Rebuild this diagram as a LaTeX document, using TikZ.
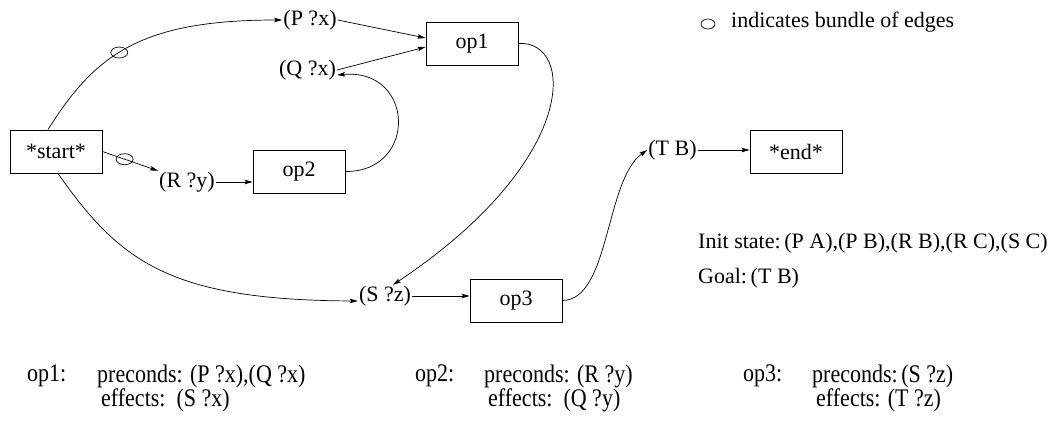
\documentclass[tikz,border=0pt]{standalone}
\usepackage{fontspec}
\setmainfont{Liberation Serif}
\usetikzlibrary{arrows.meta,shapes.geometric}
\newcommand\vstr[1]{\scalebox{1}[1.15]{#1}}
\begin{document}
\begin{tikzpicture}[x=1pt,y=-1pt,
  every node/.style={font=\fontsize{22}{26}\selectfont},
  box/.style={draw,line width=0.9pt,minimum width=92pt,minimum height=43pt,inner sep=0pt},
  lit/.style={inner sep=1pt},
  bot/.style={inner sep=1pt,anchor=west},
  arr/.style={-{Stealth[length=8pt,width=4.5pt,inset=1.5pt]}},
  edge/.style={line width=0.7pt},
  bundle/.style={draw,ellipse,line width=0.7pt,minimum width=17pt,minimum height=11pt,inner sep=0pt}]
\useasboundingbox (0,0) rectangle (1060,421);
% boxes
\node[box] (start) at (56,151.5) {*start*};
\node[box] (op1) at (472,43.5) {op1};
\node[box] (op2) at (299,171.5) {op2};
\node[box] (op3) at (516,300.5) {op3};
\node[box] (end) at (796,151.5) {*end*};
% literals
\node[lit] (px) at (310,20) {(P ?x)};
\node[lit] (qx) at (307.5,70) {(Q ?x)};
\node[lit] (ry) at (187,182) {(R ?y)};
\node[lit] (sz) at (385,296) {(S ?z)};
\node[lit] (tb) at (672.5,150) {(T B)};
% edges
\draw[edge,arr] ([xshift=-8pt]start.north) .. controls (95,55) and (140,20) .. (px.west) node[bundle,pos=0.45]{};
\draw[edge,arr] (start.east) -- (ry.north west) node[bundle,pos=0.4]{};
\draw[edge,arr] ([xshift=2pt]start.south) .. controls (120,262) and (170,300) .. ([yshift=-5pt]sz.west);
\draw[edge,arr] (ry.east) -- (ry.east -| op2.west);
\draw[edge,arr] (sz.east) -- (sz.east -| op3.west);
\draw[edge,arr] (tb.east) -- (tb.east -| end.west);
\draw[edge,arr] (px.east) -- ([yshift=5.5pt]op1.west);
\draw[edge,arr] (qx.east) -- ([yshift=-3.5pt]op1.west);
\draw[edge,arr] (op2.east) .. controls (418,172) and (415,68) .. ([yshift=-5pt]qx.east);
\draw[edge,arr] (op1.east) .. controls (575,40) and (580,160) .. ([xshift=8pt]sz.north);
\draw[edge,arr] (op3.east) .. controls (610,300) and (605,180) .. (tb.west);
% legend
\node[bundle,minimum width=14pt,minimum height=10pt] (leg) at (708,24) {};
\node[lit,anchor=west] (legt) at (730,22) {indicates bundle of edges};
% state
\node[lit,anchor=west] (init) at (697,243) {Init state:\,(P A),(P B),(R B),(R C),(S C)};
\node[lit,anchor=west] (goal) at (697,278) {Goal:\,(T B)};
% operator descriptions
\node[bot] (l1) at (26,376) {\vstr{op1:}};
\node[bot] (p1) at (96,376) {\vstr{preconds: (P ?x),(Q ?x)}};
\node[bot] (e1) at (100,400) {\vstr{effects:\ \ (S ?x)}};
\node[bot] (l2) at (414,376) {\vstr{op2:}};
\node[bot] (p2) at (483,376) {\vstr{preconds: (R ?y)}};
\node[bot] (e2) at (487,400) {\vstr{effects:\ \ (Q ?y)}};
\node[bot] (l3) at (742,376) {\vstr{op3:}};
\node[bot] (p3) at (811,376) {\vstr{preconds:\,(S ?z)}};
\node[bot] (e3) at (815,400) {\vstr{effects: (T ?z)}};
\end{tikzpicture}
\end{document}
